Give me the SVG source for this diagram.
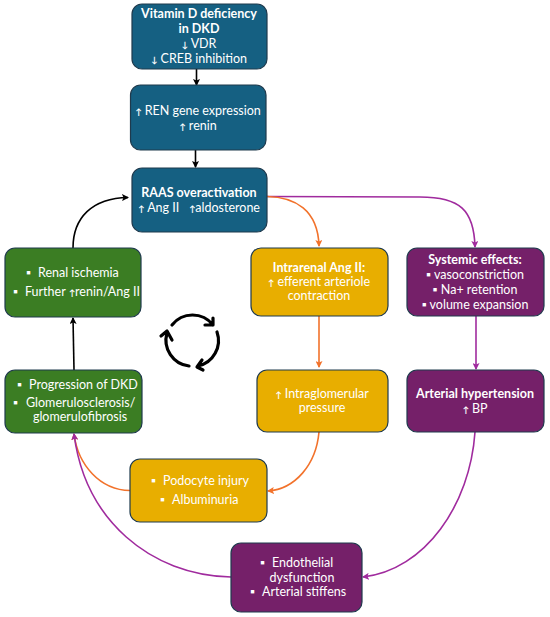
<svg xmlns="http://www.w3.org/2000/svg" width="550" height="617" viewBox="0 0 550 617">
<defs>
<style>
text{font-family:"Lato","Liberation Sans",sans-serif;font-size:12.500px;fill:#fff;text-anchor:middle;white-space:pre}
.b{font-weight:700}
.s{text-anchor:start}
.a{font-size:8.500px;font-weight:700}
.box{stroke:#1f3a4d;stroke-width:1.2}
.blue{fill:#156082}.green{fill:#3b7d23}.yellow{fill:#e8ae00}.purple{fill:#752069}
.c{fill:none;stroke-width:1.6}
.k{stroke:#000}.o{stroke:#f2722b}.p{stroke:#a02b9e}
.cy{fill:none;stroke:#000;stroke-width:3.200;stroke-linecap:round;stroke-linejoin:round}
</style>
<marker id="ak" markerUnits="userSpaceOnUse" markerWidth="7" markerHeight="7" refX="6" refY="3.500" orient="auto"><path d="M0 0L7 3.500L0 7L1.500 3.500Z" fill="#000"/></marker>
<marker id="ao" markerUnits="userSpaceOnUse" markerWidth="7" markerHeight="7" refX="6" refY="3.500" orient="auto"><path d="M0 0L7 3.500L0 7L1.500 3.500Z" fill="#f2722b"/></marker>
<marker id="ap" markerUnits="userSpaceOnUse" markerWidth="7" markerHeight="7" refX="6" refY="3.500" orient="auto"><path d="M0 0L7 3.500L0 7L1.500 3.500Z" fill="#a02b9e"/></marker>
</defs>
<rect width="550" height="617" fill="#fff"/>
<g id="connectors">
<path class="c k" marker-end="url(#ak)" d="M196.500 69V85"/>
<path class="c k" marker-end="url(#ak)" d="M195.500 150V167"/>
<path class="c k" marker-end="url(#ak)" d="M73 248C73 218 92 198 128 197.500"/>
<path class="c k" marker-end="url(#ak)" d="M74 370L73 318"/>
<path class="c p" marker-end="url(#ap)" d="M267 196.500L420 197C460 197 474 210 475 247"/>
<path class="c o" marker-end="url(#ao)" d="M267 196.500C295 197 318 210 319 246"/>
<path class="c o" marker-end="url(#ao)" d="M319 316V367"/>
<path class="c p" marker-end="url(#ap)" d="M476 316V369"/>
<path class="c o" marker-end="url(#ao)" d="M319 432C316 465 295 489 268 491"/>
<path class="c o" marker-end="url(#ao)" d="M130 490.500C100 490 78 465 74 434"/>
<path class="c p" marker-end="url(#ap)" d="M231 577C150 575 85 520 74 434"/>
<path class="c p" marker-end="url(#ap)" d="M475 432C470 505 425 570 363 577"/>
</g>
<g id="cycle">
<path class="cy" d="M172 325A26 26 0 0 1 213 325M213 318V325H205"/>
<path class="cy" d="M217 332A26 26 0 0 1 198 366M202 360L197 367L203 370"/>
<path class="cy" d="M189 366A26 26 0 0 1 167 333M161 336L167 331L172 340"/>
</g>
<g id="n1"><rect class="box blue" x="132" y="4" width="135" height="65" rx="10"/>
<text class="b" x="199" y="18">Vitamin D deficiency</text><text class="b" x="199" y="33">in DKD</text><text x="199" y="48"><tspan class="a">↓</tspan> VDR</text><text x="199" y="63"><tspan class="a">↓</tspan> CREB inhibition</text></g>
<g id="n2"><rect class="box blue" x="130.500" y="85" width="135.500" height="65" rx="10"/>
<text x="198" y="114.500"><tspan class="a">↑</tspan> REN gene expression</text><text x="198" y="129.500"><tspan class="a">↑</tspan> renin</text></g>
<g id="n3"><rect class="box blue" x="132" y="168" width="135" height="64" rx="10"/>
<text class="b" x="199" y="197">RAAS overactivation</text><text x="199" y="212"><tspan class="a">↑</tspan> Ang II   <tspan class="a">↑</tspan>aldosterone</text></g>
<g id="n4"><rect class="box green" x="5" y="248" width="136" height="69" rx="10"/>
<text class="s" y="277"><tspan x="26">▪</tspan><tspan x="38">Renal ischemia</tspan></text><text class="s" y="296"><tspan x="13">▪</tspan><tspan x="25">Further <tspan class="a">↑</tspan>renin/Ang II</tspan></text></g>
<g id="n5"><rect class="box yellow" x="251" y="248" width="137" height="68" rx="10"/>
<text class="b" x="319" y="272">Intrarenal Ang II:</text><text x="319" y="286"><tspan class="a">↑</tspan> efferent arteriole</text><text x="319" y="299.500">contraction</text></g>
<g id="n6"><rect class="box purple" x="407" y="248" width="137" height="68" rx="10"/>
<text class="b" x="475" y="264">Systemic effects:</text><text x="475" y="279">▪ vasoconstriction</text><text x="475" y="294">▪ Na+ retention</text><text x="475" y="309">▪ volume expansion</text></g>
<g id="n7"><rect class="box yellow" x="257" y="370" width="131" height="62" rx="10"/>
<text x="322" y="398"><tspan class="a">↑</tspan> Intraglomerular</text><text x="322" y="412">pressure</text></g>
<g id="n8"><rect class="box purple" x="407" y="370" width="137" height="62" rx="10"/>
<text class="b" x="475" y="398">Arterial hypertension</text><text x="475" y="413"><tspan class="a">↑</tspan> BP</text></g>
<g id="n9"><rect class="box green" x="5" y="370" width="137" height="63" rx="10"/>
<text class="s" y="389"><tspan x="17">▪</tspan><tspan x="29">Progression of DKD</tspan></text><text class="s" y="407"><tspan x="13">▪</tspan><tspan x="26">Glomerulosclerosis/</tspan></text><text x="80" y="421">glomerulofibrosis</text></g>
<g id="n10"><rect class="box yellow" x="130" y="459" width="137" height="63" rx="10"/>
<text class="s" y="485"><tspan x="151">▪</tspan><tspan x="163">Podocyte injury</tspan></text><text class="s" y="504"><tspan x="160">▪</tspan><tspan x="172">Albuminuria</tspan></text></g>
<g id="n11"><rect class="box purple" x="231" y="543" width="131" height="69" rx="10"/>
<text class="s" y="567"><tspan x="260">▪</tspan><tspan x="272">Endothelial</tspan></text><text x="302" y="582">dysfunction</text><text class="s" y="596"><tspan x="250">▪</tspan><tspan x="262">Arterial stiffens</tspan></text></g>
</svg>
